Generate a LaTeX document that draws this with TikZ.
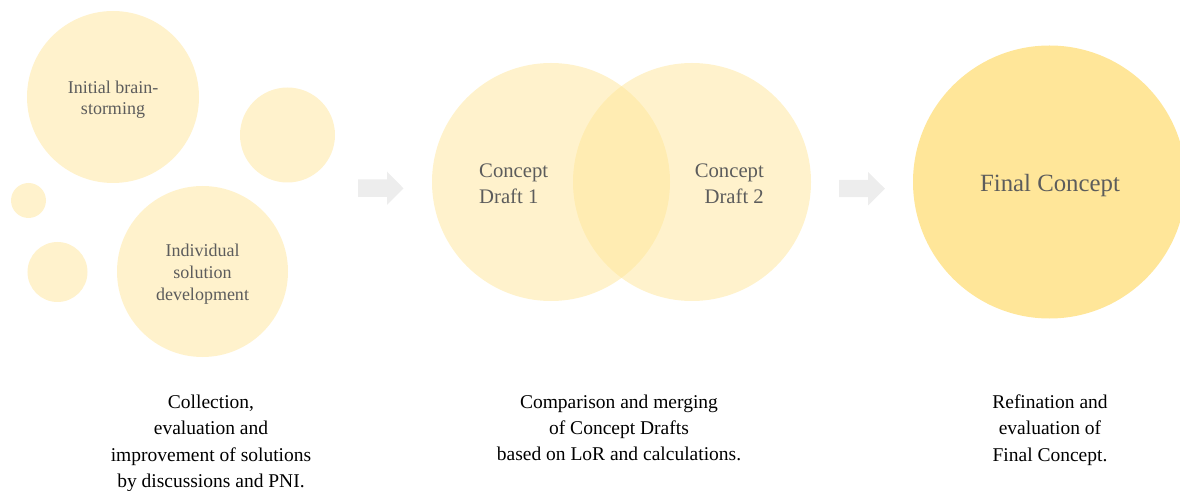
\documentclass[tikz,border=0pt]{standalone}
\usepackage{fontspec}
\setmainfont{Liberation Serif}
\definecolor{lightgold}{HTML}{FFF2CC}
\definecolor{gold}{HTML}{FFE699}
\definecolor{txtgray}{HTML}{5C5C5C}
\definecolor{arrowgray}{HTML}{EDEDED}
\begin{document}
\begin{tikzpicture}[x=1bp,y=-1bp,
  bubble/.style={circle, inner sep=0pt, draw=none, fill=lightgold, minimum size=#1},
  venn/.style={circle, inner sep=0pt, draw=none, fill=gold, fill opacity=0.5, minimum size=238bp},
  finalc/.style={circle, inner sep=0pt, draw=none, fill=gold, minimum size=273bp},
  smalltxt/.style={inner sep=0pt, align=center, text=txtgray, font=\fontsize{18bp}{21.6bp}\selectfont},
  drafttxt/.style={inner sep=0pt, text=txtgray, font=\fontsize{20.7bp}{26bp}\selectfont},
  captxt/.style={inner sep=0pt, align=center, text=black, font=\fontsize{19.5bp}{26.3bp}\selectfont},
  blockarrow/.style={fill=arrowgray, draw=none}]
\useasboundingbox (0,0) rectangle (1180,491);

% stage 1 bubbles
\node[bubble=172bp] (brain) at (113,97) {};
\node[bubble=95bp]  (b2) at (287.5,135) {};
\node[bubble=35bp]  (b3) at (28.5,200.5) {};
\node[bubble=60bp]  (b4) at (57.5,272) {};
\node[bubble=171bp] (indiv) at (202.5,271.5) {};
\node[smalltxt] (braintxt) at (113,99.6) {Initial brain-\\storming};
\node[smalltxt] (indivtxt) at (202.5,274.2) {Individual\\solution\\development};

% stage 2 venn
\node[venn] (d1) at (551,182) {};
\node[venn] (d2) at (692,182) {};
\node[drafttxt, align=left, anchor=west] (d1txt) at (479,183.3) {Concept\\Draft 1};
\node[drafttxt, align=right, anchor=east] (d2txt) at (764,183.3) {Concept\\Draft 2};

% stage 3
\node[finalc] (final) at (1049.5,182) {};
\node[inner sep=0pt, text=txtgray, font=\fontsize{24.8bp}{30bp}\selectfont, anchor=base] (finaltxt) at (1050,191.5) {Final Concept};

% block arrows
\fill[blockarrow] (358,179.5) -- (387,179.5) -- (387,171.5) -- (403.5,188.3) -- (387,205) -- (387,197) -- (358,197) -- cycle;
\fill[blockarrow] (839,180) -- (868,180) -- (868,172) -- (885,188.7) -- (868,205.5) -- (868,197.2) -- (839,197.2) -- cycle;

% captions
\node[captxt] (cap1) at (211,443.2) {Collection,\\evaluation and\\improvement of solutions\\by discussions and PNI.};
\node[captxt] (cap2) at (619,428) {Comparison and merging\\of Concept Drafts\\based on LoR and calculations.};
\node[captxt] (cap3) at (1050,430) {Refination and\\evaluation of\\Final Concept.};
\end{tikzpicture}
\end{document}
